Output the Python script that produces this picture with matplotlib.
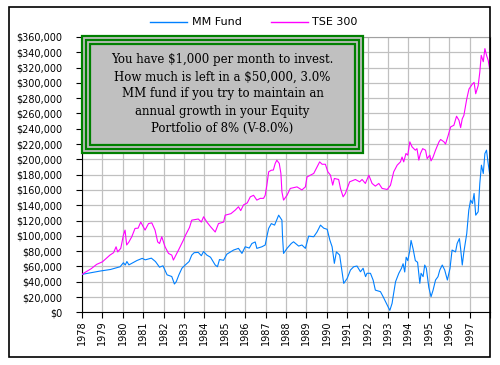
import matplotlib
matplotlib.use("Agg")
import matplotlib.pyplot as plt
from matplotlib.patches import Rectangle
from matplotlib.ticker import FuncFormatter, MultipleLocator

# ------------------------------
# Data ($ thousands)
# ------------------------------

tse_years = [1978.00, 1978.20, 1978.45, 1978.72, 1979.00, 1979.37, 1979.55, 1979.67, 1979.75, 1979.90,
             1980.03, 1980.11, 1980.19, 1980.30, 1980.44, 1980.60, 1980.75, 1980.88, 1981.09, 1981.26,
             1981.42, 1981.58, 1981.71, 1981.80, 1981.91, 1982.07, 1982.24, 1982.40, 1982.48, 1982.73,
             1982.97, 1983.06, 1983.27, 1983.38, 1983.70, 1983.85, 1983.96, 1984.12, 1984.30, 1984.53,
             1984.69, 1984.94, 1985.02, 1985.30, 1985.51, 1985.67, 1985.78, 1985.92, 1986.10, 1986.25,
             1986.41, 1986.57, 1986.74, 1986.90, 1986.98, 1987.06, 1987.15, 1987.28, 1987.38, 1987.47,
             1987.55, 1987.67, 1987.75, 1987.80, 1987.88, 1988.05, 1988.21, 1988.54, 1988.78, 1988.95,
             1989.03, 1989.20, 1989.36, 1989.52, 1989.65, 1989.77, 1989.93, 1990.05, 1990.18, 1990.29,
             1990.37, 1990.58, 1990.67, 1990.80, 1990.91, 1991.12, 1991.40, 1991.61, 1991.73, 1991.89,
             1992.06, 1992.22, 1992.38, 1992.55, 1992.71, 1992.96, 1993.12, 1993.28, 1993.45, 1993.61,
             1993.69, 1993.77, 1993.88, 1993.97, 1994.07, 1994.18, 1994.34, 1994.42, 1994.51, 1994.59,
             1994.70, 1994.84, 1994.92, 1995.05, 1995.11, 1995.21, 1995.33, 1995.50, 1995.58, 1995.74,
             1995.82, 1995.94, 1996.07, 1996.23, 1996.36, 1996.48, 1996.56, 1996.64, 1996.72, 1996.86,
             1996.97, 1997.14, 1997.22, 1997.30, 1997.42, 1997.50, 1997.57, 1997.67, 1997.75, 1997.83,
             1997.91, 1997.98]
tse_vals = [49.6, 53, 57, 62.7, 66, 74.8, 78, 85.7, 79, 83.6,
            101, 107.5, 88, 92, 98.8, 109.7, 110, 118, 107.5, 116,
            117, 107.5, 92, 90, 98.8, 85.7, 77, 74.8, 68.3, 81.4,
            94.4, 100, 111, 120.5, 122, 118, 124.9, 118, 112, 105,
            116, 118, 127, 129, 133.6, 138, 133, 140.5, 143, 151,
            153, 146.7, 149, 149, 153, 166, 183.7, 185.8, 186, 194.6,
            198.9, 194.6, 181.5, 157.5, 146.7, 153, 162, 164, 160, 164,
            177, 179.3, 181.6, 190, 196.7, 193.6, 193.6, 183.7, 179.3, 166.3,
            175, 173.7, 162, 151, 155.4, 170.6, 173.7, 170.6, 173.7, 168.5,
            179.3, 168.5, 165, 168.5, 162, 160.6, 166, 183.7, 192.4, 196.7,
            203, 196.7, 207.6, 205.5, 222.9, 216.3, 212, 214, 199, 207.6,
            214, 212, 201, 205.5, 198, 203, 212, 222.9, 226, 223,
            220, 230.3, 242.4, 244.6, 256.4, 251, 241.5, 253, 257.5, 279,
            292, 298.6, 300.7, 285.8, 296.4, 314, 336, 327.7, 344.8, 336,
            329.6, 318.7]

mm_years = [1978.00, 1978.50, 1978.90, 1979.40, 1979.87, 1980.03, 1980.12, 1980.20, 1980.30, 1980.70,
            1980.95, 1981.10, 1981.40, 1981.60, 1981.80, 1981.97, 1982.17, 1982.40, 1982.53, 1982.62,
            1982.75, 1982.90, 1983.06, 1983.25, 1983.38, 1983.50, 1983.70, 1983.85, 1983.96, 1984.12,
            1984.30, 1984.53, 1984.64, 1984.74, 1984.94, 1985.10, 1985.43, 1985.67, 1985.84, 1986.00,
            1986.20, 1986.33, 1986.49, 1986.57, 1986.82, 1986.98, 1987.06, 1987.15, 1987.28, 1987.44,
            1987.64, 1987.80, 1987.83, 1987.88, 1988.05, 1988.26, 1988.37, 1988.62, 1988.78, 1988.95,
            1989.11, 1989.36, 1989.52, 1989.69, 1989.85, 1990.02, 1990.15, 1990.26, 1990.37, 1990.47,
            1990.63, 1990.83, 1991.00, 1991.16, 1991.32, 1991.48, 1991.65, 1991.78, 1991.90, 1991.97,
            1992.14, 1992.27, 1992.38, 1992.63, 1992.76, 1992.96, 1993.09, 1993.20, 1993.25, 1993.37,
            1993.53, 1993.66, 1993.74, 1993.82, 1993.89, 1993.97, 1994.07, 1994.13, 1994.23, 1994.34,
            1994.45, 1994.56, 1994.62, 1994.72, 1994.80, 1994.88, 1995.00, 1995.11, 1995.21, 1995.33,
            1995.45, 1995.54, 1995.66, 1995.78, 1995.91, 1996.04, 1996.14, 1996.31, 1996.39, 1996.50,
            1996.56, 1996.64, 1996.72, 1996.86, 1996.96, 1997.05, 1997.14, 1997.22, 1997.30, 1997.42,
            1997.50, 1997.58, 1997.67, 1997.75, 1997.83, 1997.90, 1997.98]
mm_vals = [49.6, 52, 54, 56, 59.6, 64.8, 61.8, 66.4, 62, 67.8,
           70.5, 68.6, 70.8, 66.4, 59, 60.8, 49, 46.8, 37, 40,
           49, 57.7, 61.8, 66.4, 74.8, 78, 78.3, 74, 79.5, 74.8,
           72, 61.8, 59.6, 69, 68, 76, 81.4, 83.6, 77, 85.7,
           84, 90, 92, 83.6, 85.7, 88, 98.8, 109.7, 116, 114,
           127, 120.5, 98.8, 77, 83.6, 90, 92.2, 86.6, 88, 83.6,
           99.6, 98.8, 105, 114, 110, 108.5, 94.4, 85.7, 64, 79,
           74.8, 37.8, 44.4, 55.3, 59.6, 60.5, 53, 57.6, 46.6, 51,
           51, 42.2, 29, 27, 20.4, 9.5, 2.5, 11.7, 20.4, 40,
           51, 57.5, 63.5, 52.7, 72, 67.6, 81, 94, 83, 67.6,
           65.4, 37.9, 51, 46.6, 61.8, 57.5, 32.6, 20.4, 29, 42.2,
           46.6, 55.3, 61.8, 55.3, 42.2, 57.5, 81.4, 79, 90, 96.4,
           83.2, 61.8, 79, 103, 133.6, 146.7, 142.3, 155.4, 127, 131.5,
           168.5, 192.4, 181.5, 207.6, 212, 196.7, 181.5]

tick_years = list(range(1978, 1998))

note_lines = ["You have $1,000 per month to invest.",
              "How much is left in a $50,000, 3.0%",
              "MM fund if you try to maintain an",
              "annual growth in your Equity",
              "Portfolio of 8% (V-8.0%)"]

W, H = 500, 365


def fx(px):
    return px / W


def fy(py):
    return 1 - py / H


# ------------------------------
# Figure and axes
# ------------------------------

fig = plt.figure(figsize=(5, 3.65), dpi=100)
ax = fig.add_axes([fx(82), fy(312.3), fx(490) - fx(82), fy(37) - fy(312.3)])

ax.plot(mm_years, [v * 1000 for v in mm_vals], color="#0080ff", lw=0.8, zorder=3)
ax.plot(tse_years, [v * 1000 for v in tse_vals], color="#ff00ff", lw=0.8, zorder=3)

ax.set_xlim(1978, 1998)
ax.set_ylim(0, 360000)
ax.set_xticks(tick_years + [1998])
ax.set_xticklabels([str(y) for y in tick_years] + [""], rotation=90, fontsize=7)
ax.yaxis.set_major_locator(MultipleLocator(20000))
ax.yaxis.set_major_formatter(FuncFormatter(lambda v, p: f"${v:,.0f}"))
ax.tick_params(axis="y", labelsize=7, length=4, width=0.8, pad=10)
ax.tick_params(axis="x", length=4, width=0.8, pad=2)

ax.grid(True, color="#c0c0c0", lw=0.9)
ax.set_axisbelow(True)
ax.spines["top"].set_color("#a0a0a0")
for side in ["left", "bottom", "right"]:
    ax.spines[side].set_color("black")

# ------------------------------
# Outer frame
# ------------------------------

fig.patches.append(Rectangle((fx(9), fy(357)), fx(490) - fx(9), fy(7) - fy(357),
                             transform=fig.transFigure, fill=False, ec="black", lw=1.2))

# ------------------------------
# Legend along the top
# ------------------------------

fig.lines.append(plt.Line2D([fx(150), fx(187)], [fy(22), fy(22)], transform=fig.transFigure,
                            color="#0080ff", lw=1))
fig.text(fx(192), fy(22), "MM Fund", fontsize=8, va="center", ha="left")
fig.lines.append(plt.Line2D([fx(271), fx(308)], [fy(22), fy(22)], transform=fig.transFigure,
                            color="#ff00ff", lw=1))
fig.text(fx(312), fy(22), "TSE 300", fontsize=8, va="center", ha="left")

# ------------------------------
# Note box with triple green border
# ------------------------------

fig.patches.append(Rectangle((fx(81), fy(154)), fx(364) - fx(81), fy(35) - fy(154),
                             transform=fig.transFigure, fc="#c0c0c0", ec="none", zorder=5))
for inset in [0, 4, 8]:
    fig.patches.append(Rectangle((fx(82 + inset), fy(153 - inset)),
                                 fx(363 - inset) - fx(82 + inset),
                                 fy(36 + inset) - fy(153 - inset),
                                 transform=fig.transFigure, fill=False, ec="#008000",
                                 lw=1.6, zorder=6))

for i, line in enumerate(note_lines):
    fig.text(fx(222.5), fy(60 + i * 17), line, fontsize=8.5, family="DejaVu Serif",
             ha="center", va="center", zorder=7)

fig.savefig("out.png", dpi=100)
